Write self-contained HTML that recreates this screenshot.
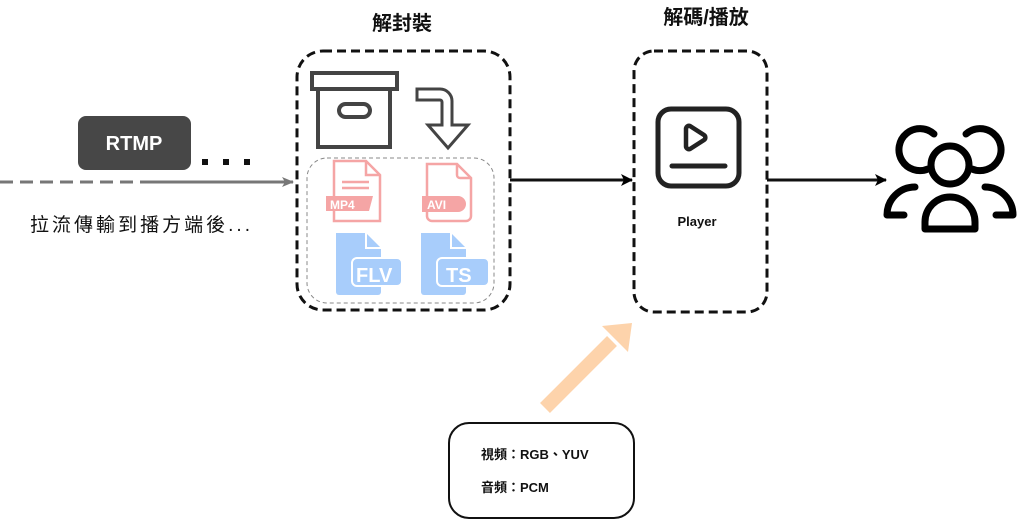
<!DOCTYPE html>
<html><head><meta charset="utf-8"><style>
body{margin:0;background:#fff;width:1024px;height:522px;overflow:hidden}
text{font-family:"Liberation Sans","Noto Sans CJK TC",sans-serif}
</style></head><body>
<svg width="1024" height="522" viewBox="0 0 1024 522" xmlns="http://www.w3.org/2000/svg">
<defs>
<marker id="ah" markerWidth="12" markerHeight="12" refX="11" refY="6" orient="auto" markerUnits="userSpaceOnUse"><path d="M0,0 L12,6 L0,12 L3,6 Z" fill="#000"/></marker>
<marker id="ahg" markerWidth="12" markerHeight="10" refX="11" refY="5" orient="auto" markerUnits="userSpaceOnUse"><path d="M0,0 L12,5 L0,10 L3,5 Z" fill="#777"/></marker>
</defs>
<text x="402" y="30" font-size="20" font-weight="bold" text-anchor="middle" fill="#111">解封裝</text>
<text x="706" y="24" font-size="20" font-weight="bold" text-anchor="middle" fill="#111">解碼/播放</text>
<rect x="297" y="51" width="213" height="259" rx="26" fill="none" stroke="#111" stroke-width="3" stroke-dasharray="9 5"/>
<rect x="307" y="158" width="187" height="145" rx="20" fill="none" stroke="#888" stroke-width="1" stroke-dasharray="4 3"/>
<g fill="none" stroke="#444" stroke-width="4">
<rect x="312" y="73" width="85" height="16"/>
<rect x="318" y="89" width="72" height="58"/>
<rect x="339" y="104" width="31" height="13" rx="6.5"/>
</g>
<path d="M417,89 H440 a12,12 0 0 1 12,12 V125 H468 L448,148 L428,125 H442 V102 a2,2 0 0 0 -2,-2 H417 Z" fill="none" stroke="#444" stroke-width="3"/>
<g stroke="#f5a5a5" fill="none" stroke-width="2.5">
<path d="M334,161 H366 L380,175 V221 H334 Z"/><path d="M366,161 V175 H380"/>
<path d="M342,182 H369 M342,188 H369"/>
</g>
<path d="M326,196 H373 L369,211 H326 Z" fill="#f5a5a5"/>
<text x="330" y="209" font-size="12" fill="#fff" font-weight="bold">MP4</text>
<g stroke="#f5a5a5" fill="none" stroke-width="2.5">
<path d="M427,164 H457 L471,178 V216 a5,5 0 0 1 -5,5 H432 a5,5 0 0 1 -5,-5 Z"/><path d="M457,164 V175 a3,3 0 0 0 3,3 H471"/>
</g>
<path d="M422,196 H458 a8,8 0 0 1 0,16 H422 Z" fill="#f5a5a5"/>
<text x="427" y="209" font-size="12" fill="#fff" font-weight="bold">AVI</text>
<path d="M336,233 H366 L381,248 V292 a3,3 0 0 1 -3,3 H339 a3,3 0 0 1 -3,-3 Z" fill="#a8cdfb"/>
<path d="M366,233 V248 H381" fill="none" stroke="#fff" stroke-width="2"/>
<rect x="352" y="258" width="50" height="28" rx="5" fill="#a8cdfb" stroke="#fff" stroke-width="2"/>
<text x="356" y="282" font-size="20" font-weight="bold" fill="#fff">FLV</text>
<path d="M421,233 H451 L466,248 V292 a3,3 0 0 1 -3,3 H424 a3,3 0 0 1 -3,-3 Z" fill="#a8cdfb"/>
<path d="M451,233 V248 H466" fill="none" stroke="#fff" stroke-width="2"/>
<rect x="437" y="258" width="52" height="28" rx="5" fill="#a8cdfb" stroke="#fff" stroke-width="2"/>
<text x="446" y="282" font-size="20" font-weight="bold" fill="#fff">TS</text>
<rect x="78" y="116" width="113" height="54" rx="8" fill="#474747"/>
<text x="134" y="150" font-size="20" font-weight="bold" fill="#fff" text-anchor="middle">RTMP</text>
<rect x="202" y="159" width="6" height="6" fill="#111"/><rect x="223" y="159" width="6" height="6" fill="#111"/><rect x="244" y="159" width="6" height="6" fill="#111"/>
<line x1="0" y1="182" x2="150" y2="182" stroke="#777" stroke-width="3" stroke-dasharray="13 7"/>
<line x1="150" y1="182" x2="293" y2="182" stroke="#777" stroke-width="3" marker-end="url(#ahg)"/>
<text x="30" y="231" font-size="19" fill="#111" textLength="220">拉流傳輸到播方端後...</text>
<line x1="510" y1="180" x2="632" y2="180" stroke="#111" stroke-width="3" marker-end="url(#ah)"/>
<rect x="634" y="51" width="133" height="261" rx="20" fill="none" stroke="#111" stroke-width="3" stroke-dasharray="9 5"/>
<rect x="658" y="109" width="81" height="77" rx="13" fill="none" stroke="#222" stroke-width="5"/>
<path d="M686,129 L686,146 a3,3 0 0 0 4,3 L704,140 a3,3 0 0 0 0,-5 L690,126 a3,3 0 0 0 -4,3 Z" fill="none" stroke="#222" stroke-width="4.5" stroke-linejoin="round"/>
<line x1="672" y1="166" x2="725" y2="166" stroke="#222" stroke-width="5" stroke-linecap="round"/>
<text x="697" y="226" font-size="13" font-weight="bold" fill="#111" text-anchor="middle">Player</text>
<line x1="767" y1="180" x2="886" y2="180" stroke="#111" stroke-width="3" marker-end="url(#ah)"/>
<g fill="none" stroke="#000" stroke-width="7" stroke-linecap="round" stroke-linejoin="round">
<circle cx="950" cy="165" r="19"/>
<path d="M925,229 V222 a25,25 0 0 1 50,0 V229 Z"/>
<path d="M934,134 a21,21 0 1 0 -6,35"/>
<path d="M966,134 a21,21 0 1 1 6,35"/>
<path d="M915,187 a28,28 0 0 0 -28,28 H904"/>
<path d="M985,187 a28,28 0 0 1 28,28 H996"/>
</g>
<line x1="545" y1="408" x2="612" y2="341" stroke="#fdd3ab" stroke-width="14"/>
<path d="M602,326 L632,323 L628,352 Z" fill="#fdd3ab"/>
<rect x="449" y="423" width="185" height="95" rx="20" fill="#fff" stroke="#111" stroke-width="2"/>
<text x="481" y="459" font-size="13" font-weight="bold" fill="#111">視頻：RGB、YUV</text>
<text x="481" y="492" font-size="13" font-weight="bold" fill="#111">音頻：PCM</text>
</svg>
</body></html>
